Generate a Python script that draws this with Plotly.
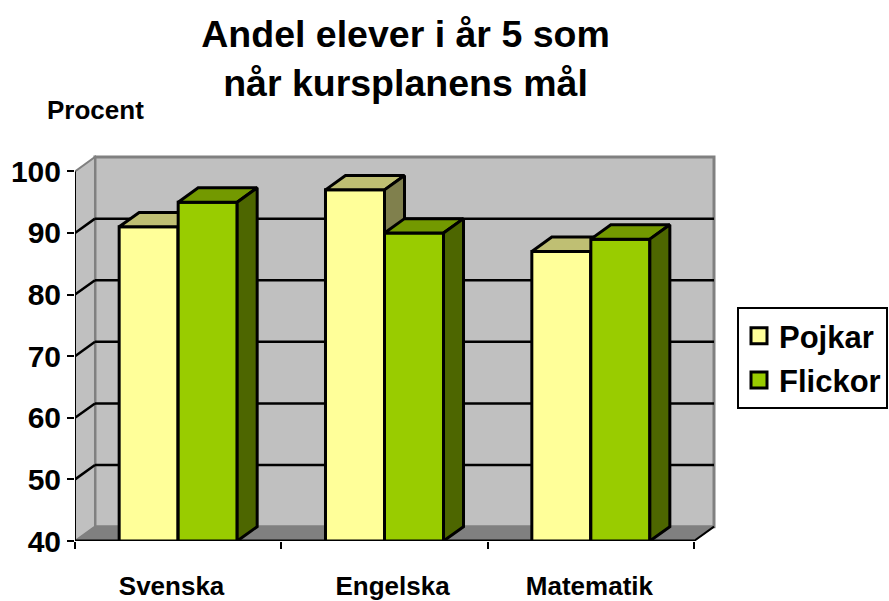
import plotly.graph_objects as go

subjects = ["Svenska", "Engelska", "Matematik"]
pojkar = [91, 97, 87]
flickor = [95, 90, 89]
y_ticks = [40, 50, 60, 70, 80, 90, 100]
title_text = "Andel elever i år 5 som<br>når kursplanens mål"

FONT = "Liberation Sans, Arial, sans-serif"
W, H = 889, 601
L, R, T, B = 75, 173, 155, 60
DX, DY = 0.0969, 2.33       # 3-D depth in data units
BAR_W = 0.286
X0, X1 = -0.5, 2.5
Y0, Y1 = 40, 100
XMAX = X1 + DX + 0.0097
YMAX = Y1 + DY + 0.33
LABEL_SHIFT = [-0.032, 0.039, -0.007]

fig = go.Figure()


def poly(xs, ys, fill, xa="x", ya="y", line="black", lw=3):
    fig.add_trace(go.Scatter(x=xs, y=ys, mode="lines", fill="toself", fillcolor=fill,
                             line=dict(color=line, width=lw), xaxis=xa, yaxis=ya,
                             showlegend=False, hoverinfo="skip", cliponaxis=False))


def bar_series(name, values, offset, front, top, side, xa, ya):
    fig.add_trace(go.Bar(x=list(range(len(subjects))), y=values, width=BAR_W, offset=offset,
                         marker=dict(color=front, line=dict(color="black", width=3)),
                         name=name, showlegend=False, xaxis=xa, yaxis=ya))
    for i, v in enumerate(values):
        a = i + offset
        b = a + BAR_W
        poly([a, a + DX, b + DX, b, a], [v, v + DY, v + DY, v, v], top, xa, ya)
        poly([b, b + DX, b + DX, b, b], [v, v + DY, Y0 + DY, Y0, v], side, xa, ya)


bar_series("Pojkar", pojkar, -BAR_W, "#FFFF99", "#BFBF73", "#80804D", "x", "y")
bar_series("Flickor", flickor, 0, "#99CC00", "#739900", "#4D6600", "x2", "y2")

# baseline and left axis line
fig.add_trace(go.Scatter(x=[X0, X1], y=[Y0, Y0], mode="lines", line=dict(color="black", width=3),
                         xaxis="x2", yaxis="y2", showlegend=False, hoverinfo="skip", cliponaxis=False))
fig.add_trace(go.Scatter(x=[X0, X0], y=[Y0, Y1], mode="lines", line=dict(color="black", width=2),
                         xaxis="x2", yaxis="y2", showlegend=False, hoverinfo="skip", cliponaxis=False))
# right floor edge
fig.add_trace(go.Scatter(x=[X1, X1 + DX], y=[Y0, Y0 + DY], mode="lines", line=dict(color="black", width=2),
                         showlegend=False, hoverinfo="skip", cliponaxis=False))

# legend entries
for nm, col in [("Pojkar", "#FFFF99"), ("Flickor", "#99CC00")]:
    fig.add_trace(go.Scatter(x=[None], y=[None], mode="markers", name=nm, legendgroup=nm,
                             marker=dict(symbol="square", size=16, color=col,
                                         line=dict(color="black", width=3))))

shapes = []


def path(xs, ys):
    return "M" + "L".join(f"{x},{y}" for x, y in zip(xs, ys)) + "Z"


GRAY = "#808080"
shapes.append(dict(type="path", layer="below", xref="x", yref="y",
                   path=path([X0 + DX, X1 + DX, X1 + DX, X0 + DX], [Y0 + DY, Y0 + DY, Y1 + DY, Y1 + DY]),
                   fillcolor="#C0C0C0", line=dict(color=GRAY, width=3)))
shapes.append(dict(type="path", layer="below", xref="x", yref="y",
                   path=path([X0, X0 + DX, X0 + DX, X0], [Y0, Y0 + DY, Y1 + DY, Y1]),
                   fillcolor="#C0C0C0", line=dict(color=GRAY, width=2)))
shapes.append(dict(type="path", layer="below", xref="x", yref="y",
                   path=path([X0, X1, X1 + DX, X0 + DX], [Y0, Y0, Y0 + DY, Y0 + DY]),
                   fillcolor=GRAY, line=dict(color=GRAY, width=1)))
for t in y_ticks[1:-1]:
    shapes.append(dict(type="line", layer="below", xref="x", yref="y",
                       x0=X0, y0=t, x1=X0 + DX, y1=t + DY, line=dict(color="black", width=2.5)))
    shapes.append(dict(type="line", layer="below", xref="x", yref="y",
                       x0=X0 + DX, y0=t + DY, x1=X1 + DX, y1=t + DY, line=dict(color="black", width=2.5)))

axis_common = dict(showgrid=False, zeroline=False, showline=False, automargin=False)
fig.update_layout(
    width=W, height=H,
    margin=dict(l=L, r=R, t=T, b=B, pad=0, autoexpand=False),
    paper_bgcolor="white", plot_bgcolor="rgba(0,0,0,0)",
    barmode="overlay",
    font=dict(family=FONT, color="black"),
    shapes=shapes,
    title=dict(text=f"<b>{title_text}</b>", x=405.5 / W, xanchor="center", y=1 - 47 / H, yanchor="middle",
               automargin=False, font=dict(size=37.5, family=FONT)),
    xaxis=dict(range=[X0, XMAX], tickvals=[i + s for i, s in enumerate(LABEL_SHIFT)],
               ticktext=[f"<b>{s}</b>" for s in subjects],
               ticks="", tickfont=dict(size=26, family=FONT), ticklabelstandoff=27,
               minor=dict(tickvals=[0.5, 1.5, 2.5, -0.5], ticks="outside", ticklen=7, tickwidth=2, tickcolor="black"),
               **axis_common),
    yaxis=dict(range=[Y0, YMAX], tickvals=y_ticks, ticktext=[f"<b>{t}</b>" for t in y_ticks],
               ticks="outside", ticklen=7, tickwidth=2, tickcolor="black",
               tickfont=dict(size=30, family=FONT), **axis_common),
    xaxis2=dict(range=[X0, XMAX], overlaying="x", visible=False),
    yaxis2=dict(range=[Y0, YMAX], overlaying="y", visible=False),
    legend=dict(x=(737 - L) / (W - L - R), xanchor="left", y=(541 - 307) / (H - T - B), yanchor="top",
                bgcolor="white", bordercolor="black", borderwidth=2,
                font=dict(size=31, family=FONT, weight="bold"), tracegroupgap=1),
    annotations=[dict(text="<b>Procent</b>", xref="paper", yref="paper",
                      x=(95 - L) / (W - L - R), y=(541 - 110) / (H - T - B),
                      showarrow=False, font=dict(size=26, family=FONT), xanchor="center", yanchor="middle")],
)

fig.write_html("out.html", config=dict(displayModeBar=False),
               post_script="document.body.style.margin='0';")
